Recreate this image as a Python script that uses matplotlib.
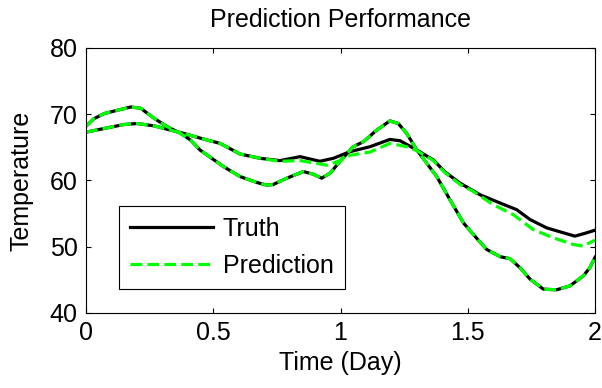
import matplotlib
matplotlib.use('Agg')
import matplotlib.pyplot as plt

plt.rcParams['font.family'] = ['Liberation Sans', 'DejaVu Sans']

# 数据: 两组真实值与预测值
x_a = [0.0, 0.03, 0.071, 0.123, 0.176, 0.215, 0.267, 0.32, 0.372, 0.411, 0.448,
       0.54, 0.605, 0.671, 0.71, 0.736, 0.789, 0.854, 0.893, 0.926, 0.959, 0.998,
       1.05, 1.09, 1.142, 1.194, 1.227, 1.26, 1.30, 1.339, 1.378, 1.404, 1.43,
       1.483, 1.522, 1.574, 1.627, 1.666, 1.705, 1.745, 1.797, 1.849, 1.902,
       1.954, 1.98, 2.0]
truth_a = [68.2, 69.3, 70.1, 70.6, 71.1, 70.9, 69.4, 68.1, 67.1, 66.1, 64.6,
           62.1, 60.6, 59.7, 59.3, 59.4, 60.35, 61.35, 60.95, 60.35, 61.1, 62.9,
           65.1, 65.85, 67.6, 69.0, 68.6, 67.1, 64.6, 62.6, 60.6, 58.85, 57.1,
           53.6, 51.85, 49.6, 48.5, 48.2, 46.85, 45.1, 43.6, 43.5, 44.1,
           45.6, 46.85, 48.4]
pred_a = [68.2, 69.3, 70.1, 70.6, 71.1, 70.9, 69.4, 68.1, 67.1, 66.1, 64.6,
          62.1, 60.6, 59.7, 59.3, 59.4, 60.35, 61.35, 60.95, 60.35, 61.1, 62.9,
          65.1, 65.85, 67.6, 69.0, 68.6, 67.1, 64.6, 62.6, 60.6, 58.85, 57.1,
          53.6, 51.85, 49.6, 48.5, 48.2, 46.85, 45.1, 43.6, 43.5, 44.1,
          45.6, 46.85, 48.4]

x_b = [0.0, 0.071, 0.149, 0.202, 0.267, 0.333, 0.385, 0.448, 0.527, 0.605, 0.684,
       0.762, 0.841, 0.919, 0.972, 1.037, 1.116, 1.194, 1.234, 1.30, 1.365, 1.41,
       1.47, 1.548, 1.627, 1.692, 1.745, 1.81, 1.876, 1.921, 1.967, 2.0]
truth_b = [67.3, 67.85, 68.45, 68.6, 68.25, 67.6, 67.1, 66.4, 65.6, 64.0, 63.35,
           63.0, 63.6, 62.9, 63.35, 64.35, 65.1, 66.2, 66.0, 64.6, 63.1, 61.3,
           59.6, 57.85, 56.6, 55.6, 54.1, 52.85, 52.1, 51.6, 52.1, 52.5]

x_bp = [0.0, 0.071, 0.149, 0.202, 0.267, 0.333, 0.385, 0.448, 0.527, 0.605, 0.684,
        0.762, 0.841, 0.919, 0.946, 0.998, 1.037, 1.116, 1.194, 1.26, 1.30, 1.365,
        1.41, 1.47, 1.522, 1.60, 1.679, 1.757, 1.836, 1.914, 1.954, 2.0]
pred_b = [67.3, 67.85, 68.45, 68.6, 68.25, 67.6, 67.1, 66.4, 65.6, 64.0, 63.35,
          62.9, 63.0, 62.5, 62.3, 63.0, 63.8, 64.3, 65.6, 65.1, 64.5, 63.0,
          61.2, 59.4, 58.35, 56.35, 54.85, 52.6, 51.35, 50.35, 50.1, 51.0]

green = '#00ff00'
dash = (0, (3.7, 1.6))

fig = plt.figure(figsize=(6.02, 3.88), dpi=100)
ax = fig.add_axes([0.1429, 0.1933, 0.8455, 0.683])

ax.plot(x_a, truth_a, color='black', lw=2.3, label='Truth')
ax.plot(x_b, truth_b, color='black', lw=2.3)
ax.plot(x_a, pred_a, color=green, lw=2.3, linestyle=dash, label='Prediction')
ax.plot(x_bp, pred_b, color=green, lw=2.3, linestyle=dash)

ax.set_xlim(0, 2)
ax.set_ylim(40, 80)
ax.set_xticks([0, 0.5, 1, 1.5, 2])
ax.set_xticklabels(['0', '0.5', '1', '1.5', '2'])
ax.set_yticks([40, 50, 60, 70, 80])
ax.tick_params(direction='in', length=3.6, width=0.8, labelsize=18, pad=6,
               top=True, right=True)
for s in ax.spines.values():
    s.set_linewidth(0.8)

ax.set_title('Prediction Performance', fontsize=18, pad=15)
ax.set_xlabel('Time (Day)', fontsize=18, labelpad=4)
ax.set_ylabel('Temperature', fontsize=18, labelpad=12)

leg = ax.legend(loc='upper left', bbox_to_anchor=(0.065, 0.404), fontsize=18,
                frameon=True, fancybox=False, edgecolor='black', framealpha=1,
                handlelength=3.3, handletextpad=0.4, borderpad=0.45,
                labelspacing=0.5, borderaxespad=0)
leg.get_frame().set_linewidth(0.8)

fig.savefig('out.png', dpi=100)
